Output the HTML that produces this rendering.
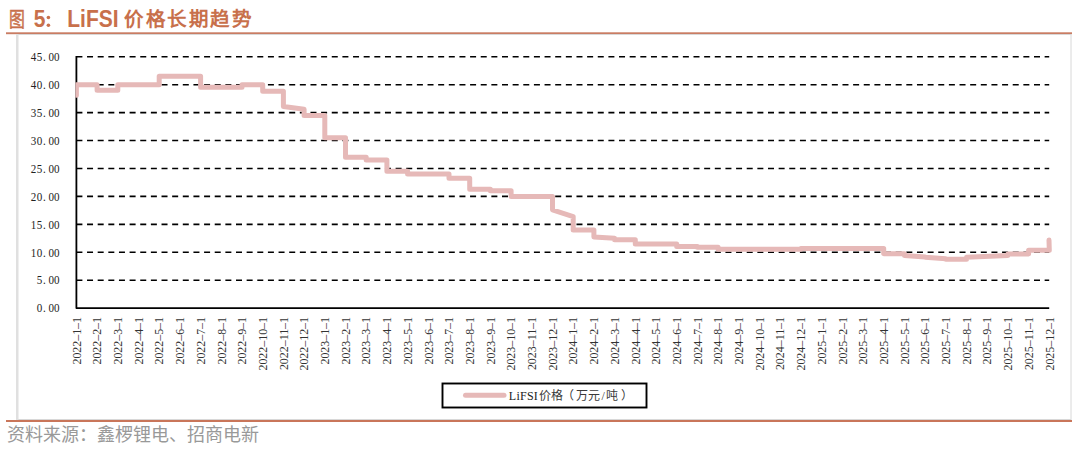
<!DOCTYPE html>
<html lang="zh-CN"><head><meta charset="utf-8">
<style>
html,body{margin:0;padding:0;background:#fff;width:1080px;height:453px;overflow:hidden;}
svg{display:block;}
</style></head><body>
<svg width="1080" height="453" viewBox="0 0 1080 453">
<rect x="0" y="0" width="1080" height="453" fill="#fff"/>
<g fill="#C8704B">
<g transform="translate(8.6,27.2) scale(0.86,1.1)"><text x="0" y="0" font-family="Liberation Serif, serif" font-size="18.5" stroke="#C8704B" stroke-width="0.45">图</text></g>
<g transform="translate(0,27.2) scale(1,1.13)" font-family="Liberation Sans, sans-serif" font-weight="bold" font-size="21">
<text x="33.7" y="0">5</text>
<text x="67.3" y="0">LiFSI</text>
</g>
<circle cx="48.4" cy="17.5" r="1.8"/><circle cx="48.4" cy="25.2" r="1.8"/>
<text x="124" y="26.2" font-family="Liberation Sans, sans-serif" font-size="19.5" font-weight="bold" letter-spacing="1.6">价格长期趋势</text>
</g>
<rect x="6" y="32.3" width="1066" height="1.9" fill="#C97C63"/>
<rect x="16.5" y="34.5" width="1054.5" height="385" fill="none" stroke="#D8D8D8" stroke-width="1"/>
<rect x="16" y="34" width="2.5" height="386" fill="#E0E0E0"/>
<g stroke="#000" stroke-width="1.6" stroke-dasharray="6 4.64">
<line x1="76.40" y1="280.18" x2="1049.2" y2="280.18"/><line x1="76.40" y1="252.26" x2="1049.2" y2="252.26"/><line x1="76.40" y1="224.33" x2="1049.2" y2="224.33"/><line x1="76.40" y1="196.41" x2="1049.2" y2="196.41"/><line x1="76.40" y1="168.49" x2="1049.2" y2="168.49"/><line x1="76.40" y1="140.57" x2="1049.2" y2="140.57"/><line x1="76.40" y1="112.64" x2="1049.2" y2="112.64"/><line x1="76.40" y1="84.72" x2="1049.2" y2="84.72"/><line x1="76.40" y1="56.80" x2="1049.2" y2="56.80"/>
</g>
<path d="M76.40,55.9 L76.40,308.10 L1049.2,308.10" fill="none" stroke="#000" stroke-width="1.8" stroke-linejoin="round"/>
<clipPath id="pc"><rect x="75.4" y="0" width="1000" height="453"/></clipPath>
<path clip-path="url(#pc)" d="M76.40,95.33 L76.40,84.72 L97.10,84.72 L97.10,90.31 L117.80,90.31 L117.80,84.72 L159.20,84.72 L159.20,76.35 L200.60,76.35 L200.60,87.24 L242.00,87.24 L242.00,84.72 L262.70,84.72 L262.70,91.14 L283.40,91.14 L283.40,106.50 L304.10,109.29 L304.10,115.44 L324.80,115.44 L324.80,137.77 L345.50,137.77 L345.50,157.32 L366.20,157.32 L366.20,160.11 L386.90,160.11 L386.90,171.28 L407.60,171.28 L407.60,174.07 L449.00,174.07 L449.00,178.26 L469.70,178.26 L469.70,189.15 L490.40,189.15 L490.40,190.83 L511.10,190.83 L511.10,196.41 L552.50,196.41 L552.50,209.81 L573.20,216.52 L573.20,229.92 L593.90,229.92 L593.90,236.90 L614.60,238.29 L614.60,239.69 L635.30,239.69 L635.30,243.88 L676.70,243.88 L676.70,246.39 L697.40,246.39 L697.40,247.23 L718.10,247.23 L718.10,249.18 L800.90,249.18 L800.90,248.46 L883.70,248.46 L883.70,253.65 L904.40,253.65 L904.40,255.61 L925.10,257.00 L925.10,257.28 L945.80,258.68 L945.80,259.24 L966.50,259.24 L966.50,257.28 L1007.90,255.61 L1007.90,253.93 L1028.60,253.93 L1028.60,250.30 L1049.30,250.30 L1048.99,239.97" fill="none" stroke="#E6B9B8" stroke-width="5" stroke-linejoin="round" stroke-linecap="round"/>
<g font-family="Liberation Serif, serif" font-size="13" fill="#222">
<g transform="translate(0,312.40) scale(0.85,1)"><text x="43.18 50.47 56.94 63.41" y="0">0.00</text></g><g transform="translate(0,284.48) scale(0.85,1)"><text x="43.18 50.47 56.94 63.41" y="0">5.00</text></g><g transform="translate(0,256.56) scale(0.85,1)"><text x="36.12 43.18 50.47 56.94 63.41" y="0">10.00</text></g><g transform="translate(0,228.63) scale(0.85,1)"><text x="36.12 43.18 50.47 56.94 63.41" y="0">15.00</text></g><g transform="translate(0,200.71) scale(0.85,1)"><text x="36.12 43.18 50.47 56.94 63.41" y="0">20.00</text></g><g transform="translate(0,172.79) scale(0.85,1)"><text x="36.12 43.18 50.47 56.94 63.41" y="0">25.00</text></g><g transform="translate(0,144.87) scale(0.85,1)"><text x="36.12 43.18 50.47 56.94 63.41" y="0">30.00</text></g><g transform="translate(0,116.94) scale(0.85,1)"><text x="36.12 43.18 50.47 56.94 63.41" y="0">35.00</text></g><g transform="translate(0,89.02) scale(0.85,1)"><text x="36.12 43.18 50.47 56.94 63.41" y="0">40.00</text></g><g transform="translate(0,61.10) scale(0.85,1)"><text x="36.12 43.18 50.47 56.94 63.41" y="0">45.00</text></g>
</g>
<g font-family="Liberation Serif, serif" font-size="11.9" fill="#333">
<text transform="translate(80.60,317.0) rotate(-90)" text-anchor="end">2022–1–1</text><text transform="translate(101.30,317.0) rotate(-90)" text-anchor="end">2022–2–1</text><text transform="translate(122.00,317.0) rotate(-90)" text-anchor="end">2022–3–1</text><text transform="translate(142.70,317.0) rotate(-90)" text-anchor="end">2022–4–1</text><text transform="translate(163.40,317.0) rotate(-90)" text-anchor="end">2022–5–1</text><text transform="translate(184.10,317.0) rotate(-90)" text-anchor="end">2022–6–1</text><text transform="translate(204.80,317.0) rotate(-90)" text-anchor="end">2022–7–1</text><text transform="translate(225.50,317.0) rotate(-90)" text-anchor="end">2022–8–1</text><text transform="translate(246.20,317.0) rotate(-90)" text-anchor="end">2022–9–1</text><text transform="translate(266.90,317.0) rotate(-90)" text-anchor="end">2022–10–1</text><text transform="translate(287.60,317.0) rotate(-90)" text-anchor="end">2022–11–1</text><text transform="translate(308.30,317.0) rotate(-90)" text-anchor="end">2022–12–1</text><text transform="translate(329.00,317.0) rotate(-90)" text-anchor="end">2023–1–1</text><text transform="translate(349.70,317.0) rotate(-90)" text-anchor="end">2023–2–1</text><text transform="translate(370.40,317.0) rotate(-90)" text-anchor="end">2023–3–1</text><text transform="translate(391.10,317.0) rotate(-90)" text-anchor="end">2023–4–1</text><text transform="translate(411.80,317.0) rotate(-90)" text-anchor="end">2023–5–1</text><text transform="translate(432.50,317.0) rotate(-90)" text-anchor="end">2023–6–1</text><text transform="translate(453.20,317.0) rotate(-90)" text-anchor="end">2023–7–1</text><text transform="translate(473.90,317.0) rotate(-90)" text-anchor="end">2023–8–1</text><text transform="translate(494.60,317.0) rotate(-90)" text-anchor="end">2023–9–1</text><text transform="translate(515.30,317.0) rotate(-90)" text-anchor="end">2023–10–1</text><text transform="translate(536.00,317.0) rotate(-90)" text-anchor="end">2023–11–1</text><text transform="translate(556.70,317.0) rotate(-90)" text-anchor="end">2023–12–1</text><text transform="translate(577.40,317.0) rotate(-90)" text-anchor="end">2024–1–1</text><text transform="translate(598.10,317.0) rotate(-90)" text-anchor="end">2024–2–1</text><text transform="translate(618.80,317.0) rotate(-90)" text-anchor="end">2024–3–1</text><text transform="translate(639.50,317.0) rotate(-90)" text-anchor="end">2024–4–1</text><text transform="translate(660.20,317.0) rotate(-90)" text-anchor="end">2024–5–1</text><text transform="translate(680.90,317.0) rotate(-90)" text-anchor="end">2024–6–1</text><text transform="translate(701.60,317.0) rotate(-90)" text-anchor="end">2024–7–1</text><text transform="translate(722.30,317.0) rotate(-90)" text-anchor="end">2024–8–1</text><text transform="translate(743.00,317.0) rotate(-90)" text-anchor="end">2024–9–1</text><text transform="translate(763.70,317.0) rotate(-90)" text-anchor="end">2024–10–1</text><text transform="translate(784.40,317.0) rotate(-90)" text-anchor="end">2024–11–1</text><text transform="translate(805.10,317.0) rotate(-90)" text-anchor="end">2024–12–1</text><text transform="translate(825.80,317.0) rotate(-90)" text-anchor="end">2025–1–1</text><text transform="translate(846.50,317.0) rotate(-90)" text-anchor="end">2025–2–1</text><text transform="translate(867.20,317.0) rotate(-90)" text-anchor="end">2025–3–1</text><text transform="translate(887.90,317.0) rotate(-90)" text-anchor="end">2025–4–1</text><text transform="translate(908.60,317.0) rotate(-90)" text-anchor="end">2025–5–1</text><text transform="translate(929.30,317.0) rotate(-90)" text-anchor="end">2025–6–1</text><text transform="translate(950.00,317.0) rotate(-90)" text-anchor="end">2025–7–1</text><text transform="translate(970.70,317.0) rotate(-90)" text-anchor="end">2025–8–1</text><text transform="translate(991.40,317.0) rotate(-90)" text-anchor="end">2025–9–1</text><text transform="translate(1012.10,317.0) rotate(-90)" text-anchor="end">2025–10–1</text><text transform="translate(1032.80,317.0) rotate(-90)" text-anchor="end">2025–11–1</text><text transform="translate(1053.50,317.0) rotate(-90)" text-anchor="end">2025–12–1</text>
</g>
<rect x="442.5" y="383.5" width="204" height="24" fill="#fff" stroke="#000" stroke-width="1.9"/>
<line x1="465.5" y1="395.2" x2="504" y2="395.2" stroke="#E6B9B8" stroke-width="5" stroke-linecap="round"/>
<g font-family="Liberation Serif, serif" font-size="12" fill="#222">
<text x="508.8" y="399.8" textLength="29" lengthAdjust="spacing">LiFSI</text>
<text x="539 551 561.5 575.5 587.5 601.5 605.5 620.5" y="400.3" fill="#3a3a3a">价格（万元/吨）</text>
</g>
<rect x="6" y="420" width="1066" height="2" fill="#C9765A"/>
<text x="7" y="441" font-family="Liberation Serif, serif" font-size="18" fill="#999999">资料来源：鑫椤锂电、招商电新</text>
</svg>
</body></html>
